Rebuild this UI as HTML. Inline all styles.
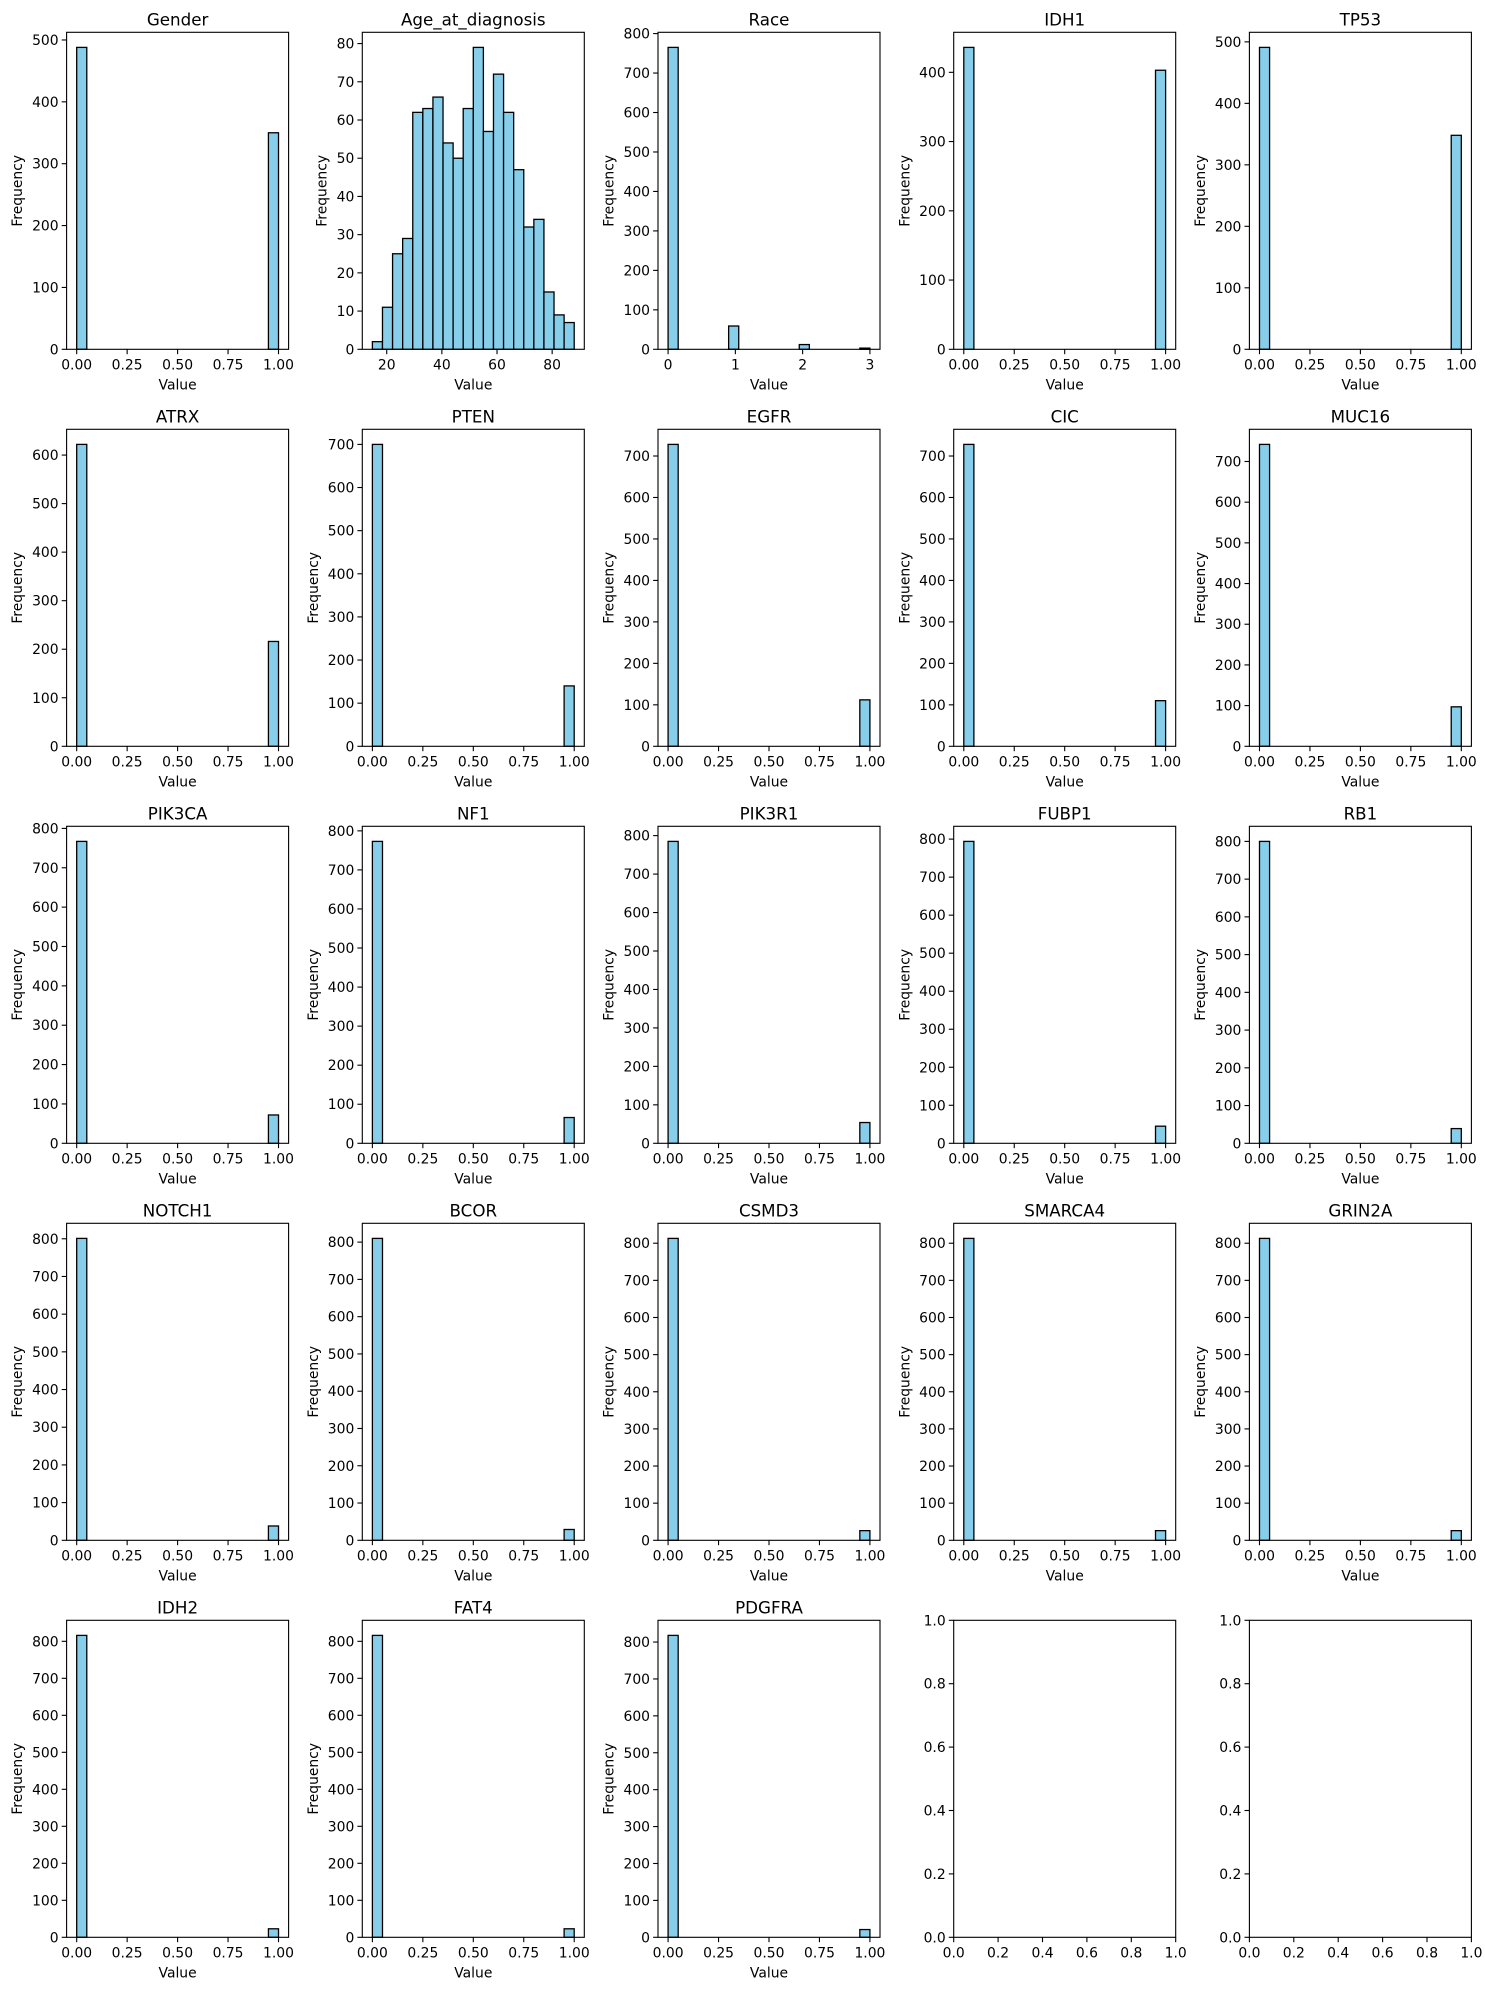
<!DOCTYPE html>
<html><head><meta charset="utf-8"><style>
html,body{margin:0;padding:0;background:#fff;}
svg text{font-family:"DejaVu Sans","Liberation Sans",sans-serif;fill:#000;}
</style></head><body>
<svg id="fig" width="1485" height="1990" viewBox="0 0 1485 1990" xmlns="http://www.w3.org/2000/svg"></svg>
<script>
// ---- data ----
const titles = ["Gender","Age_at_diagnosis","Race","IDH1","TP53","ATRX","PTEN","EGFR","CIC","MUC16","PIK3CA","NF1","PIK3R1","FUBP1","RB1","NOTCH1","BCOR","CSMD3","SMARCA4","GRIN2A","IDH2","FAT4","PDGFRA"];
// counts of value 0 and value 1 for binary features (same order as titles, null for non-binary)
const zeroCounts = [488,null,null,436,491,622,700,728,728,742,767,773,785,794,800,801,810,813,813,813,816,816,818];
const oneCounts  = [350,null,null,403,348,216,140,112,110,97,72,66,54,45,39,38,29,26,26,26,23,23,21];
const ageCounts = [2,11,25,29,62,63,66,54,50,63,79,57,72,62,47,32,34,15,9,7];
const ageMin = 14.8, ageMax = 88.0;
const raceValues = [0,1,2,3];
const raceCounts = [765,59,12,3];
const binaryTicks = ["0.00","0.25","0.50","0.75","1.00"];
const ageTicks = [20,40,60,80];
const raceTicks = [0,1,2,3];
const emptyTicks = ["0.0","0.2","0.4","0.6","0.8","1.0"];

const NS = "http://www.w3.org/2000/svg";
const svg = document.getElementById("fig");
function mk(tag, attrs, parent){ const e=document.createElementNS(NS,tag); for(const k in attrs) e.setAttribute(k,attrs[k]); (parent||svg).appendChild(e); return e; }

const AX_W = 222, AX_H = 317;
function axLeft(c){ return 66.6 + 295.7*c; }
function axTop(r){ return 32.3 + 397*r; }

function niceStep(ymax){
  const steps=[1,2,2.5,5,10];
  let mag=Math.pow(10,Math.floor(Math.log10(ymax)));
  for(let m=mag/10;;m*=10){ for(const s of steps){ const st=s*m; if(Math.floor(ymax/st+1e-9)<=8) return st; } }
}

function drawAxes(idx, spec){
  const c=idx%5, r=Math.floor(idx/5);
  const L=axLeft(c), T=axTop(r);
  const g=mk("g",{});
  
  
  const xs=v=>L+(v-spec.x0)/(spec.x1-spec.x0)*AX_W;
  const ys=v=>T+AX_H-(v-spec.y0)/(spec.y1-spec.y0)*AX_H;
  // bars
  if(spec.bins){
    spec.bins.forEach(b=>{
      const x0=xs(b.lo), x1=xs(b.hi), y=ys(b.n), yb=ys(0);
      const rc=mk("rect",{x:x0,y:y,width:Math.max(0,x1-x0),height:Math.max(0,yb-y),fill:"#87CEEB",stroke:"#000","stroke-width":1.3},g);
      
      
    });
  }
  // frame
  const fr=mk("rect",{x:L,y:T,width:AX_W,height:AX_H,fill:"none",stroke:"#000","stroke-width":1.1},g);
  
  
  // x ticks
  spec.xticks.forEach((t,i)=>{
    const x=xs(spec.xtickVals[i]);
    mk("line",{x1:x,x2:x,y1:T+AX_H,y2:T+AX_H+4.9,stroke:"#000","stroke-width":1.1},g);
    const tx=mk("text",{x:x,y:T+AX_H+20,"font-size":13.9,"text-anchor":"middle"},g);
    tx.textContent=t;
    
    
  });
  // y ticks
  spec.yticks.forEach(v=>{
    const y=ys(v);
    mk("line",{x1:L-4.9,x2:L,y1:y,y2:y,stroke:"#000","stroke-width":1.1},g);
    const tx=mk("text",{x:L-8,y:y+5,"font-size":13.9,"text-anchor":"end"},g);
    tx.textContent=spec.yfmt(v);
    
    
  });
  if(spec.title){
    const tt=mk("text",{x:L+AX_W/2,y:T-7,"font-size":16.7,"text-anchor":"middle"},g);
    tt.textContent=spec.title;
    
    
    const xl=mk("text",{x:L+AX_W/2,y:T+AX_H+40,"font-size":13.9,"text-anchor":"middle"},g);
    xl.textContent="Value";
    
    
    const lx=L-spec.ylabOff, ly=T+AX_H/2;
    const yl=mk("text",{x:lx,y:ly,"font-size":13.9,"text-anchor":"middle",transform:`rotate(-90 ${lx} ${ly})`},g);
    yl.textContent="Frequency";
    
    
  }
}

function histSpec(title, bins, xticks, xtickVals){
  let lo=bins[0].lo, hi=bins[bins.length-1].hi, pad=(hi-lo)*0.05;
  let mx=Math.max(...bins.map(b=>b.n));
  let y1=mx*1.05, st=niceStep(y1);
  let yt=[]; for(let v=0; v<=y1+1e-9; v+=st) yt.push(v);
  const digits=String(Math.round(yt[yt.length-1])).length;
  return {name:"subplot-"+title.toLowerCase().replace(/_/g,'-'),title,bins,x0:lo-pad,x1:hi+pad,y0:0,y1,xticks,xtickVals,yticks:yt,yfmt:v=>String(Math.round(v)),ylabOff: 18+digits*8.8};
}

titles.forEach((t,i)=>{
  let bins=[];
  if(t==="Age_at_diagnosis"){
    const w=(ageMax-ageMin)/ageCounts.length;
    ageCounts.forEach((n,k)=>bins.push({lo:ageMin+k*w,hi:ageMin+(k+1)*w,n}));
    drawAxes(i,histSpec(t,bins,ageTicks.map(String),ageTicks));
  } else if(t==="Race"){
    const mn=Math.min(...raceValues), mxv=Math.max(...raceValues), w=(mxv-mn)/20;
    for(let k=0;k<20;k++) bins.push({lo:mn+k*w,hi:mn+(k+1)*w,n:0});
    raceValues.forEach((v,j)=>{ let k=Math.min(19,Math.floor((v-mn)/w+1e-9)); bins[k].n+=raceCounts[j]; });
    drawAxes(i,histSpec(t,bins,raceTicks.map(String),raceTicks));
  } else {
    for(let k=0;k<20;k++) bins.push({lo:k*0.05,hi:(k+1)*0.05,n:0});
    bins[0].n=zeroCounts[i]; bins[19].n=oneCounts[i];
    drawAxes(i,histSpec(t,bins,binaryTicks,binaryTicks.map(Number)));
  }
});
// empty axes
[23,24].forEach(i=>{
  const vals=emptyTicks.map(Number);
  drawAxes(i,{name:"empty-subplot-"+(i-22),title:null,bins:null,x0:0,x1:1,y0:0,y1:1,xticks:emptyTicks,xtickVals:vals,yticks:vals,yfmt:v=>v.toFixed(1)});
});
</script>
</body></html>
